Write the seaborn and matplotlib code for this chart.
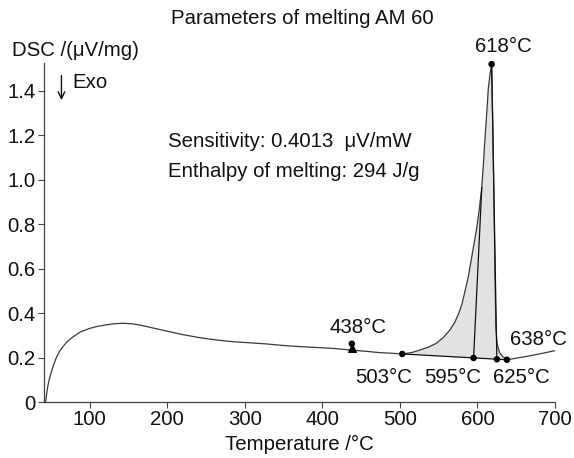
import numpy as np
import pandas as pd
import matplotlib
matplotlib.use("Agg")
import matplotlib.pyplot as plt
import seaborn as sns

# ---- data ----
temp = [43, 44.5, 46.2, 48.4, 50.6, 53.5, 57, 61, 65.6, 71, 78.5, 88, 100, 110, 121.5, 132, 143,
        154, 164.5, 180, 199, 220, 242, 263, 285, 307, 328, 350, 371, 393, 414, 438, 456, 474,
        490, 503, 515, 526, 537, 547, 556, 564.5, 571, 576, 580, 584, 588, 591.5, 595, 599, 602.5,
        605.4, 607.5, 609.7, 612, 614, 616.5, 618.3, 620, 621.5, 622.5, 623.2, 623.8, 625.5,
        628.5, 633, 638, 650, 665, 680, 700]
dsc = [0.0, 0.04, 0.076, 0.11, 0.136, 0.168, 0.2, 0.228, 0.25, 0.272, 0.293, 0.315, 0.331,
       0.34, 0.347, 0.352, 0.354, 0.352, 0.346, 0.334, 0.319, 0.303, 0.289, 0.279, 0.271, 0.266,
       0.261, 0.254, 0.249, 0.245, 0.241, 0.233, 0.228, 0.222, 0.219, 0.216, 0.222, 0.234,
       0.247, 0.264, 0.29, 0.324, 0.36, 0.40, 0.44, 0.50, 0.56, 0.63, 0.70, 0.78, 0.87, 0.96,
       1.06, 1.185, 1.3, 1.41, 1.48, 1.519, 1.2, 0.85, 0.6, 0.45, 0.33, 0.26, 0.222, 0.203,
       0.19, 0.197, 0.206, 0.216, 0.231]

# characteristic points
pt_temp = [503, 595, 625, 638, 618.3, 438]
pt_dsc = [0.216, 0.198, 0.192, 0.19, 1.519, 0.262]
pt_labels = ["503°C", "595°C", "625°C", "638°C", "618°C", "438°C"]

# construction lines
base_temp = [503, 638]
base_dsc = [0.216, 0.19]
onset_temp = [595, 605.6]
onset_dsc = [0.198, 0.965]
end_temp = [625, 618.3]
end_dsc = [0.192, 1.519]

xticks = [100, 200, 300, 400, 500, 600, 700]
yticks = [0, 0.2, 0.4, 0.6, 0.8, 1.0, 1.2, 1.4]
ytick_labels = ["0", "0.2", "0.4", "0.6", "0.8", "1.0", "1.2", "1.4"]

title = "Parameters of melting AM 60"
ylabel = "DSC /(μV/mg)"
xlabel = "Temperature /°C"
info1 = "Sensitivity: 0.4013  μV/mW"
info2 = "Enthalpy of melting: 294 J/g"

# ---- style ----
sns.set_style("ticks")
plt.rcParams["font.family"] = ["Liberation Sans", "DejaVu Sans"]
FS = 14.7

W, H = 574, 458
fig = plt.figure(figsize=(W / 100, H / 100), dpi=100)
ax = fig.add_axes([44 / W, 1 - 402 / H, (555 - 44) / W, (402 - 63) / H])

df = pd.DataFrame({"T": temp, "DSC": dsc})

# shaded peak area: curve from 503 to 638 closed by straight baseline
sel = df[(df["T"] >= 503) & (df["T"] <= 638)]
ax.fill(list(sel["T"]), list(sel["DSC"]), color="#e2e2e2", lw=0, zorder=1)

sns.lineplot(data=df, x="T", y="DSC", ax=ax, color="#3a3a3a", lw=0.9,
             estimator=None, sort=False, zorder=3)
ax.plot(base_temp, base_dsc, color="#111111", lw=0.9, zorder=3)
ax.plot(onset_temp, onset_dsc, color="#111111", lw=0.9, zorder=3)
ax.plot(end_temp, end_dsc, color="#111111", lw=0.9, zorder=3)

sns.scatterplot(x=pt_temp, y=pt_dsc, ax=ax, color="black", s=22, edgecolor="none",
                zorder=5, clip_on=False)
ax.scatter([438], [0.243], marker="^", s=30, color="black", zorder=5)

# labels of points
lab_pos = {
    "503°C": (479.4, 0.112), "595°C": (568.4, 0.112), "625°C": (656.8, 0.112),
    "638°C": (678.7, 0.283), "618°C": (633.5, 1.596), "438°C": (445.8, 0.337),
}
for lab in pt_labels:
    x, y = lab_pos[lab]
    ax.text(x, y, lab, ha="center", va="center", fontsize=FS, color="#111111", clip_on=False)

ax.text(200.6, 1.173, info1, ha="left", va="center", fontsize=FS, color="#111111")
ax.text(200.6, 1.034, info2, ha="left", va="center", fontsize=FS, color="#111111")

# Exo arrow
ax.annotate("", xy=(63.5, 1.345), xytext=(63.5, 1.48),
            arrowprops=dict(arrowstyle="->", color="#111111", lw=1.0, mutation_scale=12))
ax.text(78, 1.438, "Exo", ha="left", va="center", fontsize=FS, color="#111111")

ax.set_xlim(41, 700)
ax.set_ylim(0, 1.524)
ax.set_xticks(xticks)
ax.set_xticklabels([str(t) for t in xticks])
ax.set_yticks(yticks)
ax.set_yticklabels(ytick_labels)
ax.tick_params(axis="both", labelsize=FS, length=4, width=0.8, color="#444444",
               labelcolor="#111111", pad=2)
for s in ["left", "bottom"]:
    ax.spines[s].set_linewidth(0.9)
    ax.spines[s].set_color("#444444")
sns.despine(ax=ax)
ax.set_xlabel(xlabel, fontsize=FS, color="#111111", labelpad=4)
ax.set_ylabel("")

fig.text(302 / W, 1 - 18 / H, title, ha="center", va="center", fontsize=FS, color="#111111")
fig.text(12 / W, 1 - 50 / H, ylabel, ha="left", va="center", fontsize=FS, color="#111111")

fig.savefig("out.png", dpi=100, facecolor="white")
